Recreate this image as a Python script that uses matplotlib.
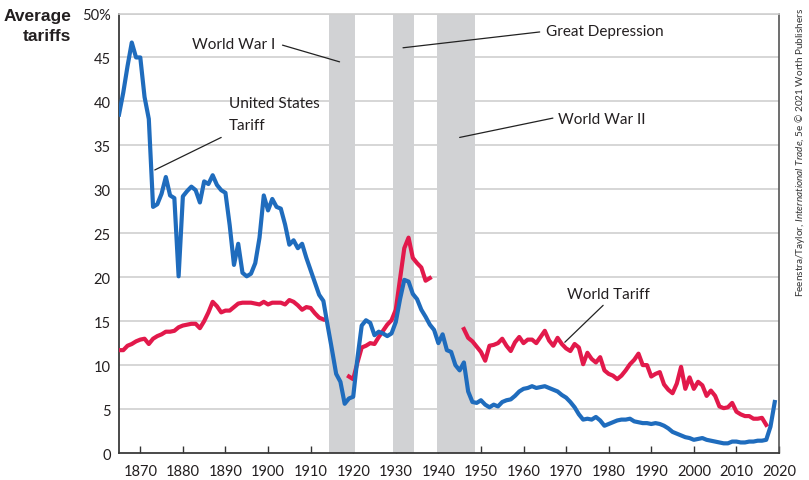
import numpy as np
import matplotlib
matplotlib.use("Agg")
import matplotlib.pyplot as plt

# ---------------- data ----------------
us_years = list(range(1865, 2020))
us_tariff = [
    38.5, 41.0, 44.0, 46.7, 45.0, 45.0, 40.5, 38.0, 28.0, 28.3,   # 1865-1874
    29.5, 31.4, 29.3, 29.0, 20.1, 29.2, 29.8, 30.3, 29.9, 28.5,   # 1875-1884
    30.9, 30.6, 31.6, 30.5, 29.9, 29.6, 25.9, 21.4, 23.8, 20.5,   # 1885-1894
    20.1, 20.4, 21.6, 24.5, 29.3, 27.6, 28.9, 28.0, 27.8, 26.0,   # 1895-1904
    23.7, 24.2, 23.3, 23.8, 22.2, 20.8, 19.4, 18.0, 17.3, 14.5,   # 1905-1914
    11.8, 9.0, 8.1, 5.6, 6.2, 6.4, 10.8, 14.5, 15.1, 14.8,        # 1915-1924
    13.4, 13.8, 13.6, 13.3, 13.6, 14.9, 17.5, 19.7, 19.5, 18.1,   # 1925-1934
    17.5, 16.3, 15.5, 14.6, 14.0, 12.5, 13.5, 11.7, 11.5, 10.0,   # 1935-1944
    9.4, 10.3, 7.0, 5.8, 5.7, 6.0, 5.5, 5.2, 5.5, 5.3,            # 1945-1954
    5.8, 6.0, 6.1, 6.5, 7.0, 7.3, 7.4, 7.6, 7.4, 7.5,             # 1955-1964
    7.6, 7.4, 7.2, 7.0, 6.6, 6.3, 5.8, 5.2, 4.4, 3.8,             # 1965-1974
    3.9, 3.8, 4.1, 3.7, 3.1, 3.3, 3.5, 3.7, 3.8, 3.8,             # 1975-1984
    3.9, 3.6, 3.5, 3.4, 3.4, 3.3, 3.4, 3.3, 3.1, 2.8,             # 1985-1994
    2.4, 2.2, 2.0, 1.8, 1.7, 1.5, 1.6, 1.7, 1.5, 1.4,             # 1995-2004
    1.3, 1.2, 1.1, 1.1, 1.3, 1.3, 1.2, 1.2, 1.3, 1.3,             # 2005-2014
    1.4, 1.4, 1.5, 3.0, 5.8,                                      # 2015-2019
]

world_years_a = list(range(1865, 1914))
world_tariff_a = [
    11.7, 11.7, 12.2, 12.4, 12.7, 12.9, 13.0, 12.4, 13.0, 13.3,   # 1865-1874
    13.5, 13.8, 13.8, 13.9, 14.3, 14.5, 14.6, 14.7, 14.7, 14.2,   # 1875-1884
    15.0, 16.0, 17.2, 16.7, 16.0, 16.2, 16.2, 16.6, 17.0, 17.1,   # 1885-1894
    17.1, 17.1, 17.0, 16.9, 17.2, 16.9, 17.1, 17.1, 17.1, 16.9,   # 1895-1904
    17.4, 17.2, 16.8, 16.3, 16.6, 16.5, 15.9, 15.4, 15.2,         # 1905-1913
]
world_years_b = list(range(1919, 1939))
world_tariff_b = [
    8.7, 8.4, 10.3, 12.0, 12.2, 12.5, 12.4, 13.2, 13.9, 14.6,     # 1919-1928
    15.1, 16.3, 19.8, 23.3, 24.5, 22.2, 21.6, 21.1, 19.6, 19.9,   # 1929-1938
]
world_years_c = list(range(1946, 2018))
world_tariff_c = [
    14.1, 13.1, 12.7, 12.1,                                       # 1946-1949
    11.5, 10.5, 12.2, 12.3, 12.5, 13.0, 12.2, 11.6, 12.6, 13.2,   # 1950-1959
    12.5, 12.9, 12.9, 12.5, 13.2, 13.9, 12.8, 12.2, 13.1, 12.4,   # 1960-1969
    11.9, 11.6, 12.4, 12.0, 10.1, 11.4, 10.7, 10.3, 10.9, 9.4,    # 1970-1979
    9.0, 8.8, 8.4, 8.8, 9.4, 10.1, 10.6, 11.3, 10.0, 10.0,        # 1980-1989
    8.7, 9.0, 9.2, 7.8, 7.2, 6.8, 7.9, 9.8, 7.3, 8.6,             # 1990-1999
    7.3, 8.1, 7.7, 6.5, 7.1, 6.5, 5.3, 5.1, 5.2, 5.7,             # 2000-2009
    4.7, 4.4, 4.2, 4.2, 3.9, 3.9, 4.0, 3.2,                       # 2010-2017
]

shaded_periods = [(1914.3, 1920.4), (1929.3, 1934.3), (1939.7, 1948.7)]

x_ticks = list(range(1870, 2021, 10))
y_ticks = list(range(0, 51, 5))
y_tick_labels = [str(v) for v in y_ticks[:-1]] + ["50%"]

# ---------------- style ----------------
FONT = ["Lato", "DejaVu Sans"]
plt.rcParams["font.family"] = FONT
plt.rcParams["mathtext.fontset"] = "custom"
plt.rcParams["mathtext.rm"] = "Lato"
plt.rcParams["mathtext.it"] = "Lato:italic"

BLUE = "#1f6cbd"
RED = "#e2194b"
BAND = "#d1d2d4"
GRID = "#cfcfcf"
TXT = "#231f20"

fig = plt.figure(figsize=(8.09, 4.81), dpi=100)
ax = fig.add_axes([119 / 809, 1 - 454 / 481, (779 - 119) / 809, (454 - 14.5) / 481])

ax.set_xlim(1865, 2020)
ax.set_ylim(0, 50)

for v in y_ticks[1:]:
    ax.axhline(v, color=GRID, lw=1.2, zorder=1)

for a, b in shaded_periods:
    ax.axvspan(a, b, color=BAND, lw=0, zorder=2)

ax.plot(us_years, us_tariff, color=BLUE, lw=3.0, zorder=4, solid_joinstyle="round")
ax.plot(world_years_a, world_tariff_a, color=RED, lw=3.0, zorder=3, solid_joinstyle="round")
ax.plot(world_years_b, world_tariff_b, color=RED, lw=3.0, zorder=3, solid_joinstyle="round")
ax.plot(world_years_c, world_tariff_c, color=RED, lw=3.0, zorder=3, solid_joinstyle="round")

ax.set_xticks(x_ticks)
ax.set_xticklabels([str(t) for t in x_ticks])
ax.set_yticks(y_ticks)
ax.set_yticklabels(y_tick_labels)
ax.tick_params(axis="x", direction="in", length=5, width=1, color="#333333",
               labelsize=10.5, pad=8, labelcolor=TXT)
ax.tick_params(axis="y", direction="in", length=0, labelsize=10.5, pad=6,
               labelcolor=TXT)

for side in ["left", "bottom"]:
    ax.spines[side].set_color("#3a3a3a")
    ax.spines[side].set_linewidth(1.3)
ax.spines["right"].set_color("#555555")
ax.spines["right"].set_linewidth(1.2)
ax.spines["top"].set_color(GRID)
ax.spines["top"].set_linewidth(1.2)

# y-axis title
fig.text(71 / 809, 1 - 16 / 481, "Average", ha="right", va="center",
         fontsize=12.5, fontweight="bold", family=["Liberation Sans", "DejaVu Sans"], color=TXT)
fig.text(71 / 809, 1 - 37 / 481, "tariffs", ha="right", va="center",
         fontsize=12.5, fontweight="bold", family=["Liberation Sans", "DejaVu Sans"], color=TXT)

# annotations
FS = 11
arrow = dict(arrowstyle="-", color="#222222", lw=0.9, shrinkA=0, shrinkB=0)
ax.annotate("", xy=(1916.8, 44.5), xytext=(1903.4, 46.4), arrowprops=arrow, zorder=5)
ax.text(1901.8, 46.5, "World War I", ha="right", va="center", fontsize=FS, color=TXT)

ax.annotate("", xy=(1873.4, 32.2), xytext=(1889.0, 35.9), arrowprops=arrow, zorder=5)
ax.text(1890.8, 39.8, "United States", ha="left", va="center", fontsize=FS, color=TXT)
ax.text(1890.8, 37.3, "Tariff", ha="left", va="center", fontsize=FS, color=TXT)

ax.annotate("", xy=(1931.7, 46.1), xytext=(1963.8, 47.9), arrowprops=arrow, zorder=5)
ax.text(1965.3, 48.0, "Great Depression", ha="left", va="center", fontsize=FS, color=TXT)

ax.annotate("", xy=(1945.0, 35.9), xytext=(1966.9, 38.1), arrowprops=arrow, zorder=5)
ax.text(1968.1, 38.0, "World War II", ha="left", va="center", fontsize=FS, color=TXT)

ax.annotate("", xy=(1969.7, 12.6), xytext=(1978.7, 16.8), arrowprops=arrow, zorder=5)
ax.text(1970.2, 18.1, "World Tariff", ha="left", va="center", fontsize=FS, color=TXT)

# credit line
fig.text(800 / 809, 1 - 152 / 481,
         r"Feenstra/Taylor, $\mathit{International\ Trade}$, 5e © 2021 Worth Publishers",
         rotation=90, ha="center", va="center", fontsize=7.2, color="#333333")

fig.savefig("out.png", dpi=100)
